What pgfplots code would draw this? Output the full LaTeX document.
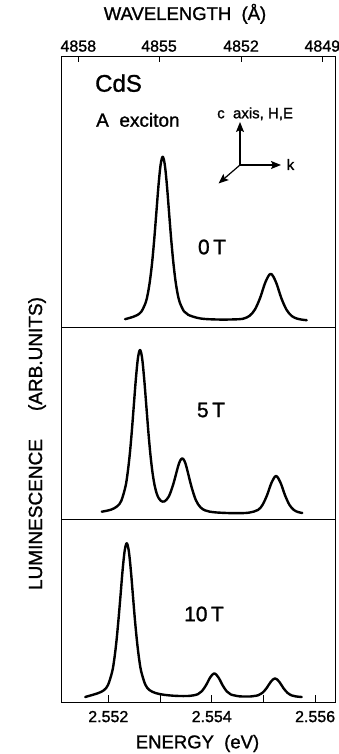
\documentclass[border=0pt]{standalone}
\usepackage{fontspec}
\setmainfont{Liberation Sans}[FakeBold=1.2]
\usepackage{pgfplots}
\pgfplotsset{compat=1.18}
\usetikzlibrary{arrows.meta}

% x data: photon energy in meV above 2.550 eV ; y: luminescence (arb. units)
\pgfplotsset{
  panel/.style={
    scale only axis, width=274.5pt, anchor=south west,
    xmin=1.085, xmax=6.394, ymin=0,
    axis line style={line width=1pt},
    ytick=\empty, xtick=\empty,
  },
  curve/.style={black, line width=2.4pt, smooth, tension=0.55, line join=round, line cap=round, mark=none},
}

\begin{document}
\begin{tikzpicture}
\path[use as bounding box] (0pt,0pt) rectangle (339pt,754pt);

% ---------- 0 T ----------
\begin{axis}[panel, at={(61pt,426pt)}, height=271pt, ymax=271,
  xtick={1.420,2.981,4.567,6.139}, xticklabels={4858,4855,4852,4849},
  xtick pos=right, xticklabel pos=right, tick align=inside,
  major tick length=5.5pt, tick style={line width=0.9pt, black},
  xticklabel style={font=\fontsize{16}{18}\selectfont, yshift=1.7pt}]
\addplot[curve] coordinates {
(2.324,8.8) (2.477,11.1) (2.559,12.9) (2.641,16.5) (2.723,25.5) (2.764,34.2)
(2.805,47.2) (2.847,65.3) (2.888,88.6) (2.929,115.3) (2.970,142.2) (3.011,163.0)
(3.052,171.2) (3.093,163.1) (3.134,142.3) (3.175,115.4) (3.216,88.7) (3.258,65.4)
(3.299,47.3) (3.340,34.3) (3.381,25.7) (3.463,16.7) (3.545,13.2) (3.710,10.3)
(3.874,9.0) (4.200,8.4) (4.532,8.8) (4.633,9.7) (4.735,12.3) (4.836,18.5)
(4.938,30.4) (5.039,45.9) (5.141,54.2) (5.243,45.8) (5.344,30.2) (5.446,18.3)
(5.547,12.0) (5.649,9.4) (5.750,8.3) (5.837,7.8)
};
\end{axis}

% ---------- 5 T ----------
\begin{axis}[panel, at={(61pt,234pt)}, height=192pt, ymax=192]
\addplot[curve] coordinates {
(1.874,8.3) (2.051,10.3) (2.172,13.7) (2.252,19.3) (2.332,33.5) (2.372,46.4)
(2.413,64.6) (2.453,87.7) (2.493,114.4) (2.533,141.1) (2.573,161.9) (2.613,170.0)
(2.653,162.1) (2.693,141.5) (2.734,114.9) (2.774,88.5) (2.814,65.6) (2.854,47.7)
(2.894,35.1) (2.934,26.8) (2.974,21.9) (3.015,19.2) (3.083,18.5) (3.170,23.5)
(3.257,35.9) (3.344,52.6) (3.388,59.2) (3.431,61.6) (3.475,58.8) (3.518,51.8)
(3.605,33.9) (3.692,20.0) (3.780,12.8) (3.867,9.7) (3.954,8.4) (4.128,7.4)
(4.451,6.8) (4.721,7.35) (4.896,10.1) (4.983,15.2) (5.070,24.8) (5.157,37.3)
(5.244,44.0) (5.331,37.25) (5.418,24.7) (5.505,15.0) (5.592,9.9) (5.679,7.8)
(5.752,7.05)
};
\end{axis}

% ---------- 10 T ----------
\begin{axis}[panel, at={(61pt,51pt)}, height=183pt, ymax=183,
  xtick={2,3,4,5,6}, xticklabels={2.552,,2.554,,2.556},
  xtick pos=left, tick align=inside,
  major tick length=8pt, tick style={line width=0.9pt, black},
  xticklabel style={font=\fontsize{16}{18}\selectfont, yshift=-4.4pt}]
\addplot[curve] coordinates {
(1.553,6.0) (1.794,9.7) (1.915,12.8) (1.995,18.1) (2.075,31.4) (2.115,43.6)
(2.155,60.6) (2.195,82.4) (2.236,107.4) (2.276,132.6) (2.316,152.1) (2.356,159.7)
(2.396,152.1) (2.436,132.6) (2.476,107.4) (2.516,82.4) (2.557,60.6) (2.597,43.6)
(2.637,31.4) (2.717,18.2) (2.797,12.9) (2.918,9.9) (3.078,8.2) (3.319,7.1)
(3.569,7.1) (3.729,8.7) (3.809,11.8) (3.890,17.8) (3.970,25.5) (4.050,29.7)
(4.131,25.5) (4.211,17.7) (4.291,11.6) (4.371,8.5) (4.532,6.7) (4.644,6.5)
(4.743,6.5) (4.903,7.8) (4.984,10.3) (5.064,15.1) (5.144,21.3) (5.224,24.65)
(5.305,21.3) (5.385,15.0) (5.465,10.2) (5.545,7.6) (5.626,6.6) (5.741,6.0)
};
\end{axis}

% ---------- annotations ----------
\node[anchor=base west, font=\fontsize{24}{26}\selectfont, inner sep=0pt] at (95pt,662.3pt) {CdS};
\node[anchor=base west, font=\fontsize{19}{21}\selectfont, inner sep=0pt] at (96pt,627.3pt) {A\ \ exciton};
\node[anchor=base west, font=\fontsize{15}{17}\selectfont, inner sep=0pt] at (217pt,635.7pt) {c\ \ axis,\ H,E};
\draw[-{Stealth[length=10pt,width=8pt,inset=2pt]}, line width=1.2pt] (240pt,589pt) -- (240pt,632pt);
\draw[-{Stealth[length=10pt,width=8pt,inset=2pt]}, line width=1.2pt] (240pt,589pt) -- (281pt,589pt);
\draw[-{Stealth[length=10pt,width=8pt,inset=2pt]}, line width=1.2pt] (240pt,589pt) -- (218.5pt,570.5pt);
\node[font=\fontsize{15}{17}\selectfont, inner sep=0pt] at (290.5pt,589.5pt) {k};

\node[font=\fontsize{21}{23}\selectfont, inner sep=0pt] at (212pt,507pt) {0\,T};
\node[font=\fontsize{21}{23}\selectfont, inner sep=0pt] at (211pt,344pt) {5\,T};
\node[font=\fontsize{21}{23}\selectfont, inner sep=0pt] at (204pt,140pt) {10\,T};

\node[rotate=90, anchor=base, font=\fontsize{19}{21}\selectfont, inner sep=0pt] at (42pt,310.5pt) {LUMINESCENCE\hspace{28pt}(ARB.UNITS)};
\node[anchor=base, font=\fontsize{18.5}{20}\selectfont, inner sep=0pt] at (197.5pt,5.7pt) {ENERGY\ \ (eV)};
\node[anchor=base, font=\fontsize{18.5}{20}\selectfont, inner sep=0pt] at (185pt,734pt) {WAVELENGTH\ \ (Å)};
\end{tikzpicture}
\end{document}
